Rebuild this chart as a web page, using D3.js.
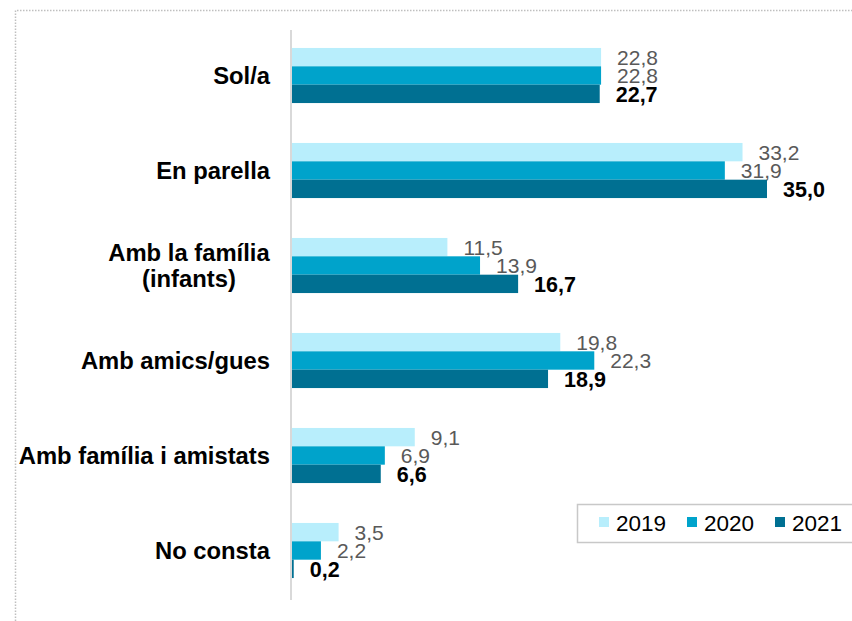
<html>
    <head>
        <meta charset="utf-8">
        <title>Amb qui</title>
        <style>
            body { margin: 0; background: #fff; }
            text { font-family: Arial, "Liberation Sans", sans-serif; }
        </style>
    </head>
    <body>
        <svg id="container" width="852" height="621"></svg>
    </body>
    <script src="https://d3js.org/d3.v7.min.js"></script>
    <script>
        let categories = ["Sol/a", "En parella", "Amb la família|(infants)", "Amb amics/gues", "Amb família i amistats", "No consta"]
        let years = ["2019", "2020", "2021"]
        let v2019 = [22.8, 33.2, 11.5, 19.8, 9.1, 3.5]
        let v2020 = [22.8, 31.9, 13.9, 22.3, 6.9, 2.2]
        let v2021 = [22.7, 35.0, 16.7, 18.9, 6.6, 0.2]
        let colors = ["#b8eefc", "#00a3cb", "#007092"]

        let series = [v2019, v2020, v2021]
        let rows = []
        categories.forEach((c, i) => years.forEach((y, j) => rows.push({cat: c, year: y, value: series[j][i]})))

        let container = d3.select("#container")

        // dotted frame
        container.append("path")
            .attr("d", "M15.5,621 L15.5,10.5 L852,10.5")
            .attr("fill", "none")
            .attr("stroke", "#bfbfbf")
            .attr("stroke-width", 1.5)
            .attr("stroke-dasharray", "1.5,1.5")

        let x0 = 291
        let xScale = d3.scaleLinear().domain([0, 35]).range([x0, x0 + 476])
        let yScale = d3.scaleBand().domain(categories).range([28, 598]).paddingInner(0.42).paddingOuter(0.21)
        let inner = d3.scaleBand().domain(years).range([0, yScale.bandwidth()])

        container.selectAll("rect.bar")
            .data(rows)
            .enter()
            .append("rect")
            .attr("class", "bar")
            .attr("x", x0)
            .attr("y", d => yScale(d.cat) + inner(d.year))
            .attr("width", d => xScale(d.value) - x0)
            .attr("height", inner.bandwidth())
            .attr("fill", d => colors[years.indexOf(d.year)])

        container.selectAll("text.val")
            .data(rows)
            .enter()
            .append("text")
            .attr("class", "val")
            .attr("x", d => xScale(d.value) + 16)
            .attr("y", d => yScale(d.cat) + inner(d.year) + inner.bandwidth() / 2)
            .attr("dy", "0.36em")
            .attr("font-size", d => d.year == "2021" ? 21.5 : 21)
            .attr("font-weight", d => d.year == "2021" ? "bold" : "normal")
            .attr("fill", d => d.year == "2021" ? "#000" : "#595959")
            .text(d => d3.format(".1f")(d.value).replace(".", ","))

        // axis line
        container.append("line")
            .attr("x1", x0).attr("x2", x0)
            .attr("y1", 30).attr("y2", 600)
            .attr("stroke", "#d9d9d9")
            .attr("stroke-width", 2)

        // category labels
        categories.forEach(c => {
            let lines = c.split("|")
            let cy = yScale(c) + yScale.bandwidth() / 2
            if (lines.length == 1) {
                container.append("text")
                    .attr("x", 270).attr("y", cy).attr("dy", "0.36em")
                    .attr("text-anchor", "end")
                    .attr("font-size", 23.8).attr("font-weight", "bold")
                    .text(c)
            } else {
                let g = container.append("text")
                    .attr("font-size", 23.8).attr("font-weight", "bold")
                    .attr("text-anchor", "middle")
                lines.forEach((l, k) => {
                    g.append("tspan").attr("x", 0).attr("y", cy + (k - 0.5) * 26).attr("dy", "0.36em").text(l)
                })
                let w = g.node().getBBox().width
                g.attr("transform", "translate(" + (270 - w / 2) + ",0)")
            }
        })

        // legend
        let legend = container.append("g")
        legend.append("rect")
            .attr("x", 577.5).attr("y", 504.5)
            .attr("width", 280).attr("height", 38)
            .attr("fill", "#fff")
            .attr("stroke", "#c8c8c8")
            .attr("stroke-width", 1.5)
        let legendX = [599, 687, 775]
        years.forEach((y, j) => {
            legend.append("rect")
                .attr("x", legendX[j]).attr("y", 517)
                .attr("width", 10).attr("height", 10)
                .attr("fill", colors[j])
            legend.append("text")
                .attr("x", legendX[j] + 17).attr("y", 523).attr("dy", "0.36em")
                .attr("font-size", 22.5)
                .text(y)
        })
    </script>
</html>
